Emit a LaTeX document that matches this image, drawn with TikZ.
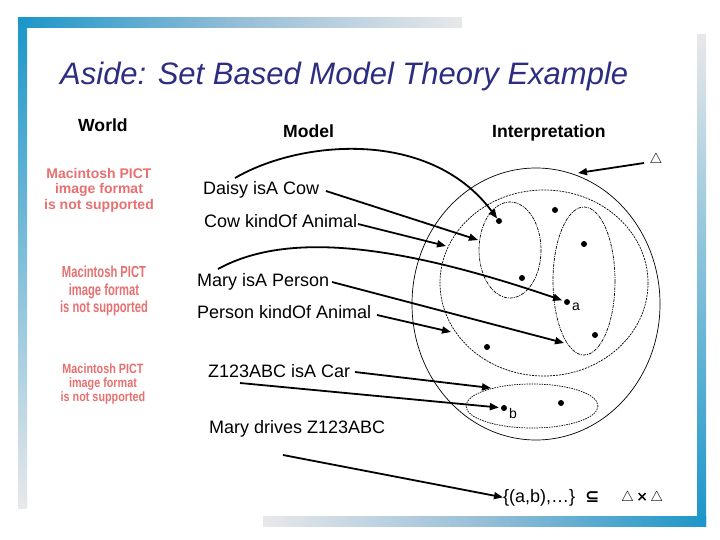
\documentclass[tikz,border=0pt]{standalone}
\usepackage{fontspec}
\setmainfont{Liberation Sans}
\newfontfamily\djvsans{DejaVu Sans}
\usetikzlibrary{arrows.meta}
\definecolor{frameblue}{RGB}{27,150,201}
\definecolor{framemid}{RGB}{150,190,215}
\definecolor{framegray}{RGB}{232,232,234}
\definecolor{titleblue}{RGB}{45,45,130}
\definecolor{pictred}{RGB}{232,112,112}
\begin{document}
\begin{tikzpicture}[x=1pt,y=-1pt,
  stmt/.style={anchor=base west, inner sep=0pt, font=\fontsize{18}{21}\selectfont},
  head/.style={anchor=base west, inner sep=0pt, font=\bfseries\fontsize{17.6}{21}\selectfont},
  arr/.style={line width=1.8pt, -{Triangle[length=9pt,width=7pt]}},
  dotpt/.style={circle, fill=black, inner sep=0pt, minimum size=6pt},
  setline/.style={line width=0.7pt},
  pict/.style={align=center, inner sep=0pt, text=pictred},
  small/.style={anchor=base west, inner sep=0pt, font=\fontsize{14}{16}\selectfont},
]
\useasboundingbox (0,0) rectangle (720,540);
\fill[white] (0,0) rectangle (720,540);
% frame
\shade[left color=frameblue, right color=framegray, middle color=framemid] (18,18) rectangle (462,28);
\shade[top color=frameblue, bottom color=framegray] (18,18) rectangle (27,508);
\shade[top color=framegray, bottom color=frameblue] (697,35) rectangle (706,526);
\shade[left color=framegray, right color=frameblue, middle color=framemid] (263,516) rectangle (706,526);
% title
\node[anchor=base west, inner sep=0pt, text=titleblue, font=\itshape\fontsize{31}{36}\selectfont] (title) at (60,85) {Aside: Set Based Model Theory Example};
% headings
\node[head] (world) at (78,132) {World};
\node[head] (model) at (283,138) {Model};
\node[head] (interp) at (492,138) {Interpretation};
% PICT placeholders
\node[pict, font=\bfseries\fontsize{14}{15.5}\selectfont] (p1) at (99,190) {Macintosh PICT\\image format\\is not supported};
\node[pict, font=\bfseries\fontsize{16}{17.5}\selectfont] (p2) at (104,291) {\scalebox{0.7}[1]{Macintosh PICT}\\\scalebox{0.7}[1]{image format}\\\scalebox{0.7}[1]{is not supported}};
\node[pict, font=\bfseries\fontsize{13.5}{14}\selectfont] (p3) at (103,384) {\scalebox{0.8}[1]{Macintosh PICT}\\\scalebox{0.8}[1]{image format}\\\scalebox{0.8}[1]{is not supported}};
% statements
\node[stmt] (t1) at (203,195) {Daisy isA Cow};
\node[stmt] (t2) at (204,228) {Cow kindOf Animal};
\node[stmt] (t3) at (197,286) {Mary isA Person};
\node[stmt] (t4) at (197,318) {Person kindOf Animal};
\node[stmt] (t5) at (208,377) {Z123ABC isA Car};
\node[stmt] (t6) at (209,433) {Mary drives Z123ABC};
% sets
\draw[setline] (536,304) ellipse [x radius=124, y radius=136];
\draw[setline, dash pattern=on 2pt off 1pt] (544,283) ellipse [x radius=104, y radius=93];
\draw[setline, dash pattern=on 3pt off 1pt on 1pt off 1pt] (510,250) ellipse [x radius=31, y radius=48];
\draw[setline, dash pattern=on 3pt off 1pt on 1pt off 1pt] (584,281) ellipse [x radius=31, y radius=74];
\draw[setline, dash pattern=on 1.5pt off 1pt] (532,406) ellipse [x radius=66, y radius=22];
% elements
\node[dotpt] (d1) at (499,221) {};
\node[dotpt] (d2) at (555,210) {};
\node[dotpt] (d3) at (584,244) {};
\node[dotpt] (d4) at (522,278) {};
\node[dotpt] (da) at (567,302) {};
\node[dotpt] (d6) at (595,335) {};
\node[dotpt] (d7) at (487,347) {};
\node[dotpt] (db) at (504,408) {};
\node[dotpt] (d9) at (561,403) {};
\node[small] (la) at (572,310) {a};
\node[small] (lb) at (509,418) {b};
% Delta
\node[inner sep=0pt, font=\fontsize{14}{16}\selectfont] (delta) at (656,160) {$\triangle$};
% relation
\node[anchor=base west, inner sep=0pt, font=\fontsize{18}{21}\selectfont] (rel) at (503,502) {\{(a,b),\ldots\}};
\node[anchor=base west, inner sep=0pt, font=\djvsans\bfseries\fontsize{17}{21}\selectfont] (subs) at (585,502) {⊆};
\node[anchor=base west, inner sep=0pt, font=\fontsize{14}{16}\selectfont] (prod) at (621,501) {$\triangle$\,{\djvsans\bfseries ×}\,$\triangle$};
% anchor coordinates
\coordinate (s1) at (235,178);
\coordinate (s2) at (326,191);
\coordinate (s3) at (358,224);
\coordinate (s4) at (218,269);
\coordinate (s5) at (332,282);
\coordinate (s6) at (377,315);
\coordinate (s7) at (355,372);
\coordinate (s8) at (240,383);
\coordinate (s9) at (283,455);
\coordinate (s10) at (644,163);
\coordinate (cowedge) at (478,240);
\coordinate (animaledge1) at (446,246);
\coordinate (personedge) at (564,343);
\coordinate (animaledge2) at (451,332);
\coordinate (caredge) at (491,388);
\coordinate (outertop) at (578,173);
% connectors
\draw[arr] (s1) .. controls (300,140) and (430,128) .. (d1);
\draw[arr] (s2) -- (cowedge);
\draw[arr] (s3) -- (animaledge1);
\draw[arr, shorten >=2pt] (s4) .. controls (280,235) and (380,238) .. (da);
\draw[arr] (s5) -- (personedge);
\draw[arr] (s6) -- (animaledge2);
\draw[arr] (s7) -- (caredge);
\draw[arr, shorten >=2pt] (s8) -- (db);
\draw[arr] (s9) -- (rel.west);
\draw[arr] (s10) -- (outertop);
\end{tikzpicture}
\end{document}
